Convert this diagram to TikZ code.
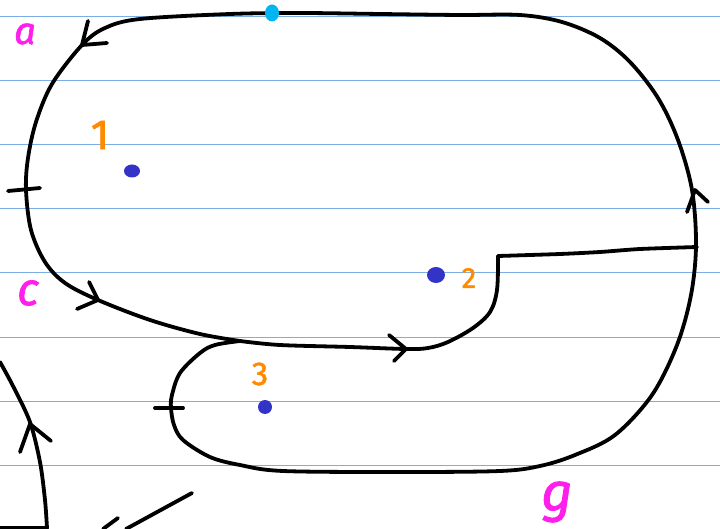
\documentclass[tikz,border=0pt]{standalone}
\usepackage{fontspec}
\setmainfont{Fira Sans}
\newfontfamily\inkfont{Fira Sans}[FakeBold=1.6]
\usetikzlibrary{shapes.geometric}
\definecolor{RuleBlue}{HTML}{7DAEE3}
\definecolor{InkMagenta}{HTML}{FF1EEB}
\definecolor{InkOrange}{HTML}{FF8A00}
\definecolor{DotBlue}{HTML}{3333C8}
\definecolor{DotCyan}{HTML}{00B6F2}

\begin{document}
\begin{tikzpicture}[
    x=1pt, y=-1pt,
    pen/.style={
      line width=3.8pt,
      line cap=round,
      line join=round,
      color=black
    },
    rule/.style={
      line width=1pt,
      color=RuleBlue
    },
    dot/.style={
      ellipse,
      fill=#1,
      inner sep=0pt
    },
    lbl/.style={
      text=#1,
      inner sep=0pt
    }
  ]
  \useasboundingbox (0,0) rectangle (720,529);

  % Ruled paper
  \foreach \y in {17,81,...,529}
    \draw[rule] (0,\y) -- (720,\y);

  % Junctions of the contour
  \coordinate (J) at (240,341);
  \coordinate (C) at (498,256);
  \coordinate (R) at (697,247);

  % Outer contour with the lower lobe
  \draw[pen] plot[smooth, tension=0.55] coordinates {
    (J) (200,334) (150,320) (98,300) (65,283) (45,262) (31,230) (26,190)
    (28,158) (36,122) (52,84) (82,45) (105,28) (140,19) (230,14) (300,13)
    (380,14) (460,15) (520,15) (562,22) (600,38) (630,62) (658,98)
    (678,140) (692,190) (696,245) (691,295) (677,345) (652,395) (615,435)
    (575,455) (540,466) (500,471) (400,472) (283,471) (240,465) (210,457)
    (183,440) (174,425) (171,408) (172,395) (180,373) (200,353) (215,345) (J)};

  % Inner cut
  \draw[pen] plot[smooth, tension=0.55] coordinates {
    (J) (280,345) (350,347) (406,349) (428,348) (448,342) (473,328)
    (490,312) (497,290) (C)};
  \draw[pen] plot[smooth, tension=0.4] coordinates {
    (C) (560,254) (600,252) (640,249) (R)};

  % Arrowheads and ticks
  \draw[pen] (88,21) -- (82,45) -- (107,43);
  \draw[pen] (89,282) -- (98,300) -- (77,309);
  \draw[pen] (389,335) -- (406,349) -- (394,361);
  \draw[pen] (687,212) -- (695,190) -- (708,202);
  \draw[pen] (8,191) -- (40,188);
  \draw[pen] (155,408) -- (183,408);

  % Partial strokes at the bottom left
  \coordinate (b1) at (0,362);
  \coordinate (b2) at (47,528);
  \draw[pen] plot[smooth] coordinates {(b1) (13,386) (30,422) (40,462) (45,500) (b2)};
  \draw[pen] (20,452) -- (30,424) -- (51,441);
  \draw[pen] (0,528) -- (b2);
  \coordinate (s1) at (192,493);
  \coordinate (s2) at (126,529);
  \draw[pen] (s1) -- (s2);
  \draw[pen] (103,529) -- (118,518);

  % Points
  \node[dot=DotCyan, minimum width=14pt, minimum height=17pt] (top) at (272,13) {};
  \node[dot=DotBlue, minimum width=16pt, minimum height=13pt] (p1) at (132,171) {};
  \node[dot=DotBlue, minimum width=18pt, minimum height=16pt] (p2) at (436,275) {};
  \node[dot=DotBlue, minimum width=14pt, minimum height=14pt] (p3) at (265,407) {};

  % Labels
  \node[lbl=InkMagenta, font=\inkfont\fontsize{38}{38}\selectfont\itshape] (la) at (25,34) {a};
  \node[lbl=InkMagenta, font=\inkfont\fontsize{46}{46}\selectfont\itshape] (lc) at (28,293) {c};
  \node[lbl=InkMagenta, font=\inkfont\fontsize{54}{54}\selectfont\itshape] (lg) at (557,502) {g};
  \node[lbl=InkOrange, font=\inkfont\fontsize{42}{42}\selectfont] (l1) at (100,135) {1};
  \node[lbl=InkOrange, font=\inkfont\fontsize{29}{29}\selectfont] (l2) at (469,278) {2};
  \node[lbl=InkOrange, font=\inkfont\fontsize{33}{33}\selectfont] (l3) at (260,374) {3};

\end{tikzpicture}
\end{document}
